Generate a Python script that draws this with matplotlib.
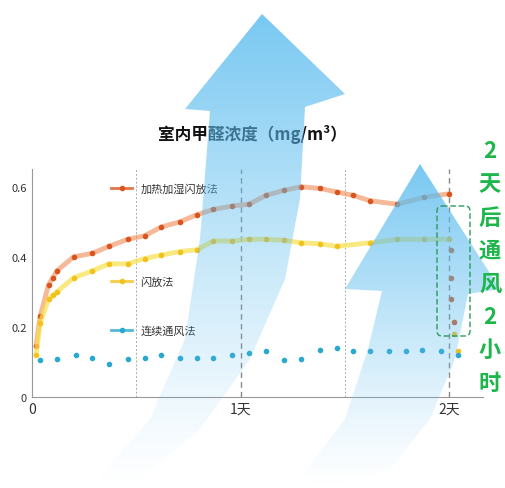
import matplotlib.pyplot as plt
import numpy as np
from matplotlib.patches import Polygon, FancyBboxPatch

plt.rcParams['font.family'] = ['Noto Sans CJK SC', 'DejaVu Sans']

# data (days, mg/m3)
red_x = [0.02, 0.04, 0.08, 0.10, 0.12, 0.20, 0.29, 0.37, 0.46, 0.54, 0.62, 0.71, 0.79, 0.87,
         0.96, 1.04, 1.12, 1.21, 1.29, 1.38, 1.46, 1.54, 1.62, 1.75, 1.88, 2.00]
red_y = [0.145, 0.23, 0.32, 0.34, 0.36, 0.40, 0.41, 0.43, 0.45, 0.46, 0.485, 0.50, 0.52, 0.535,
         0.545, 0.55, 0.575, 0.59, 0.60, 0.595, 0.585, 0.575, 0.56, 0.55, 0.57, 0.58]
red_drop_x = [2.01, 2.01, 2.01, 2.02]
red_drop_y = [0.42, 0.34, 0.28, 0.215]
yel_x = [0.02, 0.04, 0.08, 0.10, 0.12, 0.20, 0.29, 0.37, 0.46, 0.54, 0.62, 0.71, 0.79, 0.87,
         0.96, 1.04, 1.12, 1.21, 1.29, 1.38, 1.46, 1.62, 1.75, 1.88, 2.00]
yel_y = [0.12, 0.21, 0.28, 0.29, 0.30, 0.34, 0.36, 0.38, 0.38, 0.395, 0.405, 0.415, 0.42, 0.445,
         0.445, 0.45, 0.45, 0.447, 0.44, 0.437, 0.43, 0.44, 0.45, 0.45, 0.45]
yel_drop_x = [2.02, 2.04]
yel_drop_y = [0.18, 0.13]
blue_x = [0.04, 0.12, 0.21, 0.29, 0.37, 0.46, 0.54, 0.62, 0.71, 0.79, 0.87, 0.96, 1.04, 1.12,
          1.21, 1.29, 1.38, 1.46, 1.54, 1.62, 1.71, 1.79, 1.87, 1.96, 2.04]
blue_y = [0.105, 0.108, 0.12, 0.11, 0.095, 0.108, 0.11, 0.12, 0.11, 0.11, 0.112, 0.12, 0.125,
          0.13, 0.105, 0.108, 0.135, 0.14, 0.13, 0.13, 0.13, 0.13, 0.135, 0.13, 0.12]
yticks = [0, 0.2, 0.4, 0.6]
yticklabels = ['0', '0.2', '0.4', '0.6']
xticks = [0, 1, 2]
xticklabels = ['0', '1天', '2天']

fig = plt.figure(figsize=(5.05, 4.89), dpi=100)
ax = fig.add_axes([0.063, 0.186, 0.893, 0.466])
ax.set_xlim(0, 2.16)
ax.set_ylim(0, 0.65)
for s in ['top', 'right']:
    ax.spines[s].set_visible(False)
for s in ['left', 'bottom']:
    ax.spines[s].set_color('#999999')
ax.set_yticks(yticks)
ax.set_yticklabels(yticklabels, fontsize=8, color='#333333')
ax.set_xticks(xticks)
ax.set_xticklabels(xticklabels, fontsize=10, color='#333333')
ax.tick_params(length=0)
for x in [0.5, 1.5]:
    ax.axvline(x, color='#aaaaaa', ls=(0, (2, 2)), lw=0.7)
for x in [1, 2]:
    ax.axvline(x, color='#888888', ls=(0, (4, 3)), lw=1)

ax.plot(red_x, red_y, color='#f08a50', lw=3.5, alpha=0.6, solid_capstyle='round')
ax.plot(red_x, red_y, 'o', color='#d9541e', ms=3)
ax.plot(red_drop_x, red_drop_y, 'o', color='#d9541e', ms=3)
ax.plot(yel_x, yel_y, color='#f7e04a', lw=3.5, alpha=0.7, solid_capstyle='round')
ax.plot(yel_x, yel_y, 'o', color='#f2c21b', ms=3)
ax.plot(yel_drop_x, yel_drop_y, 'o', color='#f2c21b', ms=3)
ax.plot(blue_x, blue_y, 'o', color='#2aa8d0', ms=3)

# inline legend
for (yv, c, lab) in [(0.595, '#d9541e', '加热加湿闪放法'), (0.33, '#f2c21b', '闪放法'),
                     (0.19, '#2aa8d0', '连续通风法')]:
    ax.plot([0.38, 0.48], [yv, yv], color=c, lw=2, alpha=0.8)
    ax.plot([0.43], [yv], 'o', color=c, ms=3)
    ax.text(0.52, yv, lab, fontsize=8, va='center', color='#333333')

# overlay with decorative arrows
ov = fig.add_axes([0, 0, 1, 1], zorder=5)
ov.set_xlim(0, 505)
ov.set_ylim(489, 0)
ov.axis('off')


def arrow(pts, top, bottom):
    poly = Polygon(pts, closed=True, facecolor='none', edgecolor='none')
    ov.add_patch(poly)
    h = 200
    a = np.linspace(0.85, 0.0, h) ** 1.2
    img = np.zeros((h, 2, 4))
    img[..., 0] = 0.36
    img[..., 1] = 0.74
    img[..., 2] = 0.94
    img[..., 3] = a[:, None]
    im = ov.imshow(img, extent=[0, 505, bottom, top], aspect='auto', interpolation='bilinear')
    im.set_clip_path(poly)


arrow([(262, 15), (345, 95), (305, 108), (300, 200), (285, 280), (250, 360), (200, 430),
       (140, 480), (90, 489), (150, 420), (185, 340), (200, 240), (210, 112), (185, 110)], 15, 489)
arrow([(420, 165), (500, 290), (468, 295), (455, 360), (430, 420), (390, 470), (330, 489),
       (300, 480), (345, 420), (368, 350), (382, 292), (345, 290)], 165, 489)

# title
fig.text(0.5, 0.725, '室内甲醛浓度（mg/m³）', ha='center', va='center', fontsize=12,
         fontweight='bold', color='#111111', zorder=4)

# green annotation
ov.add_patch(FancyBboxPatch((437, 207), 33, 130, boxstyle='round,pad=0,rounding_size=5',
                            fill=False, ec='#2a9a5a', ls=(0, (4, 2)), lw=1))
for i, ch in enumerate('2天后通风2小时'):
    ov.text(490, 152 + i * 33, ch, fontsize=16, fontweight='bold', color='#1db64a',
            ha='center', va='center')

fig.savefig('out.png', dpi=100)
